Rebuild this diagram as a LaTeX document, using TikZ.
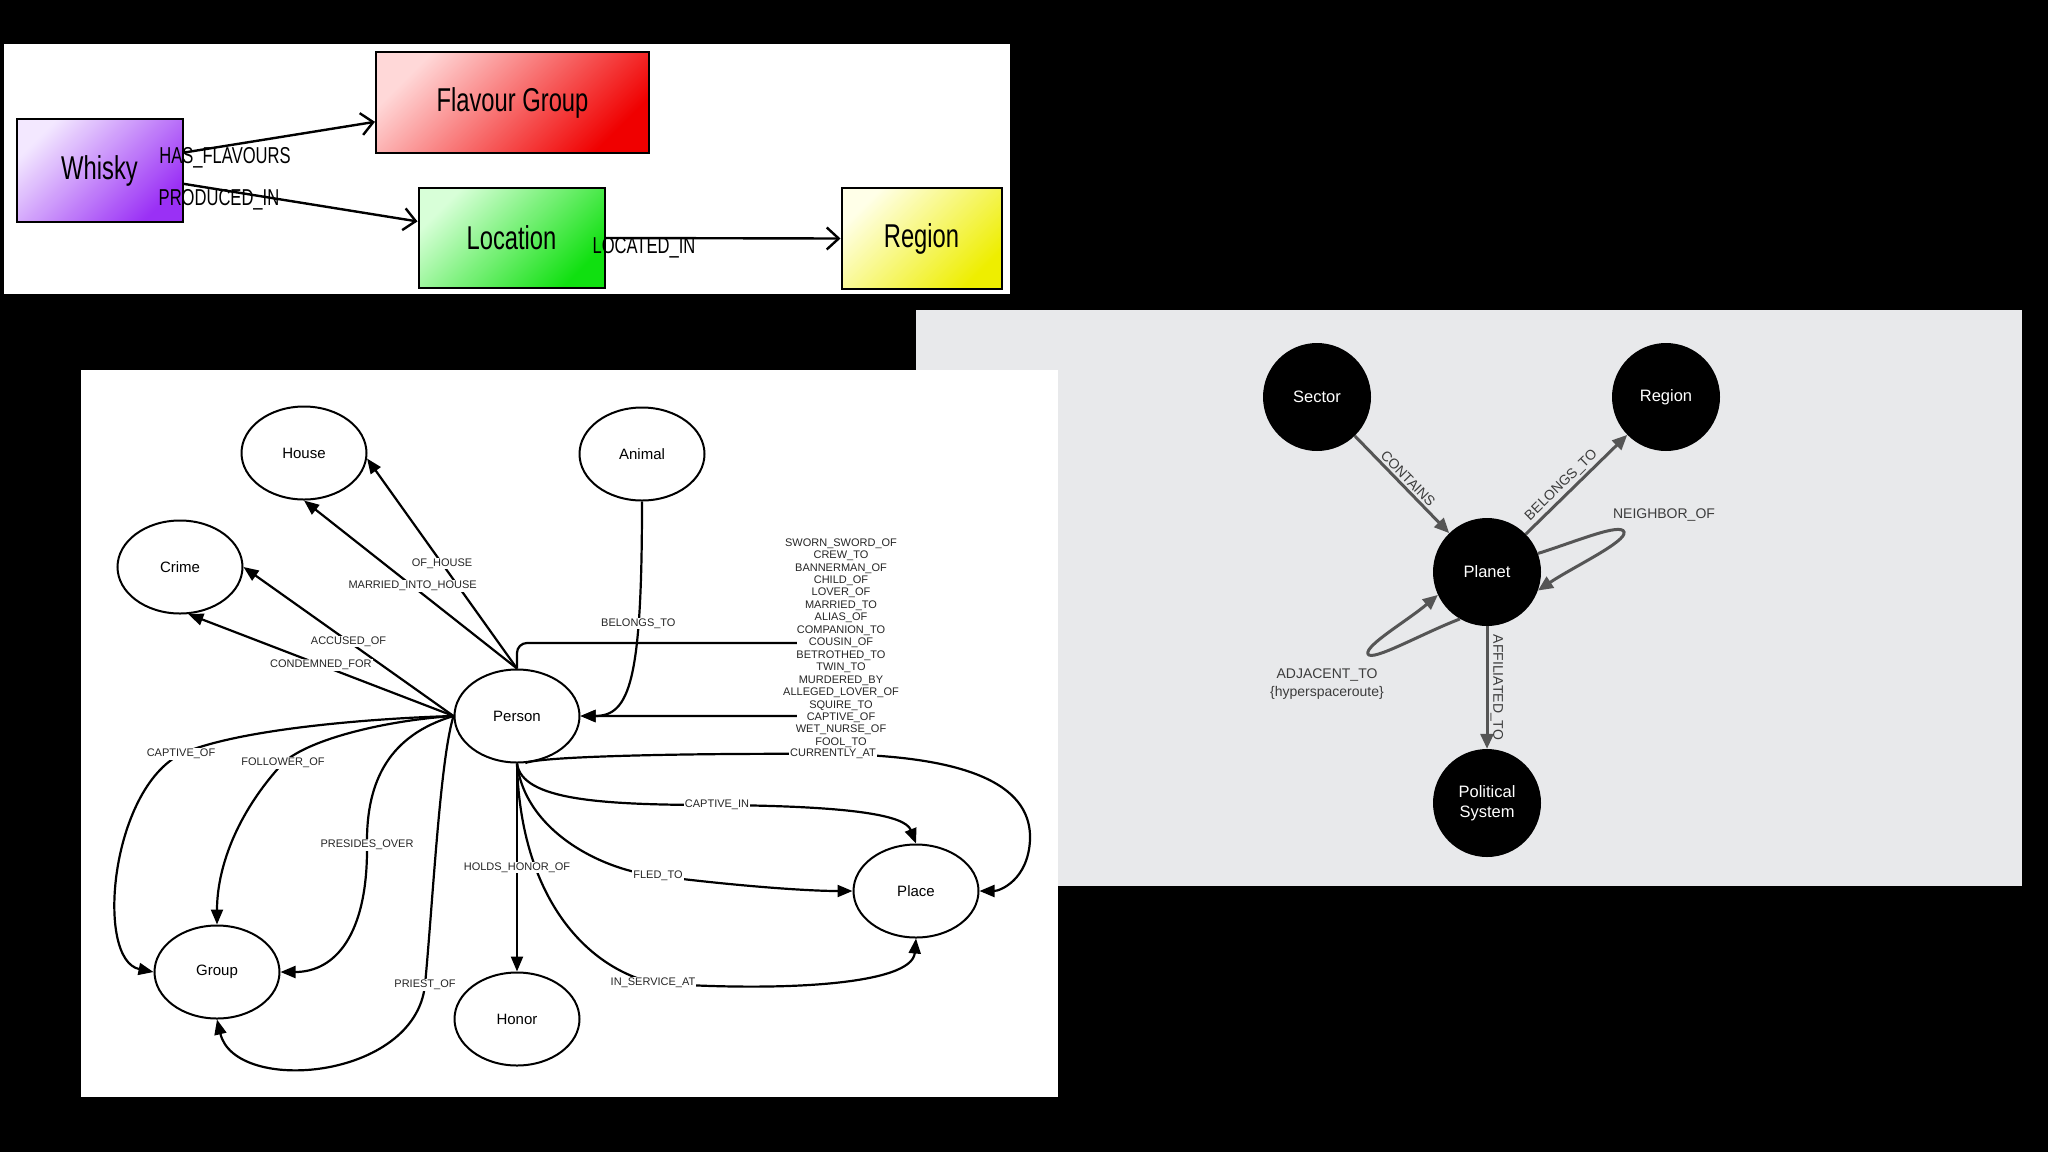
\documentclass[tikz,border=0pt]{standalone}
\usepackage{fontspec}
\setmainfont{Liberation Sans}
\newfontfamily\handfont{Liberation Sans}[FakeStretch=0.72]
\usetikzlibrary{arrows.meta,shapes.geometric,calc}
\definecolor{panelgray}{HTML}{E8E9EB}
\definecolor{sedgecol}{HTML}{555555}
\definecolor{slblcol}{HTML}{3C3C3C}
\definecolor{purpleA}{HTML}{F3E8FF}
\definecolor{purpleB}{HTML}{9A30F5}
\definecolor{redA}{HTML}{FFD8D8}
\definecolor{redB}{HTML}{F00000}
\definecolor{greenA}{HTML}{D8FFD8}
\definecolor{greenB}{HTML}{10E010}
\definecolor{yellowA}{HTML}{FFFFE8}
\definecolor{yellowB}{HTML}{EEEE00}
\tikzset{
 hbox/.style={draw=black, line width=2pt, inner sep=0pt, font=\handfont\fontsize{33}{36}\selectfont},
 hedge/.style={line width=2.4pt, -{Straight Barb[length=12pt,width=22pt]}},
 hlbl/.style={font=\handfont\fontsize{23}{25}\selectfont, inner sep=0pt},
 gnode/.style={ellipse, draw=black, line width=2pt, minimum width=125pt, minimum height=93pt, inner sep=0pt, font=\fontsize{15}{18}\selectfont},
 gedge/.style={line width=2.2pt, -{Triangle[length=15pt,width=12pt]}},
 glbl/.style={fill=white, inner sep=1pt, text=black!85, font=\fontsize{11}{12.45}\selectfont},
 snode/.style={circle, fill=black, minimum size=108pt, inner sep=0pt, text=white, align=center, font=\fontsize{16.5}{20.5}\selectfont},
 sedge/.style={draw=sedgecol, line width=3pt, -{Triangle[length=15pt,width=13pt]}},
 slbl/.style={text=slblcol, font=\fontsize{14}{18}\selectfont, inner sep=2pt, align=center},
}
\begin{document}
\begin{tikzpicture}[x=1pt,y=-1pt]
\fill[black] (0,0) rectangle (2048,1152);
\useasboundingbox (0,0) rectangle (2048,1152);

% ---------- top panel ----------
\fill[white] (4,44) rectangle (1010,294);
\node[hbox, minimum width=166pt, minimum height=103pt, top color=purpleA, bottom color=purpleB, shading angle=45] (whisky) at (99.5,170.5) {Whisky};
\node[hbox, minimum width=273pt, minimum height=101pt, top color=redA, bottom color=redB, shading angle=45] (flavour) at (512.5,102.5) {Flavour Group};
\node[hbox, minimum width=186pt, minimum height=100pt, top color=greenA, bottom color=greenB, shading angle=45] (location) at (511.5,238) {Location};
\node[hbox, minimum width=160pt, minimum height=101pt, top color=yellowA, bottom color=yellowB, shading angle=45] (region) at (921.5,238.5) {Region};
\draw[hedge] (whisky.12) -- (flavour.188.5);
\draw[hedge] (whisky.-9) -- (location.170);
\draw[hedge] (location.east) -- (region.west);
\node[hlbl] (hasfl) at (225,158) {HAS\_FLAVOURS};
\node[hlbl] (prodin) at (219,200) {PRODUCED\_IN};
\node[hlbl] (locin) at (644,248) {LOCATED\_IN};

% ---------- right panel ----------
\fill[panelgray] (916,310) rectangle (2022,886);
\node[snode] (sector) at (1317,397) {Sector};
\node[snode] (region2) at (1666,397) {Region};
\node[snode] (planet) at (1487,572) {Planet};
\node[snode] (polsys) at (1487,803) {Political\\System};
\draw[sedge] (sector) -- node[slbl, sloped, above] {CONTAINS} (planet);
\draw[sedge] (planet) -- node[slbl, sloped, above, pos=0.42] {BELONGS\_TO} (region2);
\draw[sedge] (planet) -- node[slbl, rotate=-90, anchor=south, midway] {AFFILIATED\_TO} (polsys);
\draw[sedge] (planet.20) .. controls (1576,541.5) and (1621,522.4) .. (1624,532) .. controls (1627,541.6) and (1573,567) .. (planet.-20);
\draw[sedge] (planet.240) .. controls (1422.6,633.2) and (1371.7,662.2) .. (1368,654) .. controls (1364.3,645.8) and (1407.4,620.7) .. (planet.205);
\node[slbl] (nbl) at (1664,515) {NEIGHBOR\_OF};
\node[slbl] (adl) at (1327,684) {ADJACENT\_TO\\\{hyperspaceroute\}};

% ---------- bottom-left panel ----------
\fill[white] (81,370) rectangle (1058,1097);
\node[gnode] (house) at (304,453) {House};
\node[gnode] (animal) at (642,454) {Animal};
\node[gnode] (crime) at (180,567) {Crime};
\node[gnode] (person) at (517,716) {Person};
\node[gnode] (group) at (217,972) {Group};
\node[gnode] (honor) at (517,1019) {Honor};
\node[gnode] (place) at (916,891) {Place};

\draw[gedge] (person.north) -- node[glbl, pos=0.5] {OF\_HOUSE} (house.-5);
\draw[gedge] (person.north) -- node[glbl, pos=0.49] {MARRIED\_INTO\_HOUSE} (house.south);
\draw[gedge] (person.west) -- node[glbl, pos=0.5] {ACCUSED\_OF} (crime.east);
\draw[gedge] (person.west) -- node[glbl, pos=0.5] {CONDEMNED\_FOR} (crime.-80);
\draw[gedge] (animal.south) .. controls (642,680) and (630,716) .. node[glbl, pos=0.29] {BELONGS\_TO} (person.east);

\draw[gedge, rounded corners=10pt] (person.north) |- (841,643) |- (person.east);
\node[glbl, inner xsep=-14pt, inner ysep=0pt, align=center] (rels) at (841,643) {SWORN\_SWORD\_OF\\CREW\_TO\\BANNERMAN\_OF\\CHILD\_OF\\LOVER\_OF\\MARRIED\_TO\\ALIAS\_OF\\COMPANION\_TO\\COUSIN\_OF\\BETROTHED\_TO\\TWIN\_TO\\MURDERED\_BY\\ALLEGED\_LOVER\_OF\\SQUIRE\_TO\\CAPTIVE\_OF\\WET\_NURSE\_OF\\FOOL\_TO};

\draw[gedge] (person.-80) .. controls (540,756) and (700,753) .. (833,754) node[glbl] (curat) {CURRENTLY\_AT} .. controls (980,756) and (1032,790) .. (1030,840) .. controls (1028,880) and (1000,891) .. (place.east);
\draw[gedge] (person.south) .. controls (522,800) and (600,805) .. (717,805) node[glbl] (captin) {CAPTIVE\_IN} .. controls (850,806) and (905,815) .. (place.north);
\draw[gedge] (person.south) .. controls (525,830) and (600,870) .. (658,876) node[glbl] (fledto) {FLED\_TO} .. controls (720,884) and (800,891) .. (place.west);
\draw[gedge] (person.south) .. controls (520,890) and (580,965) .. (653,983) node[glbl] (inserv) {IN\_SERVICE\_AT} .. controls (780,992) and (912,985) .. (place.south);
\draw[gedge] (person.south) -- node[glbl, midway] {HOLDS\_HONOR\_OF} (honor.north);

\draw[gedge] (person.west) .. controls (380,718) and (240,728) .. (181,754) node[glbl] (capof) {CAPTIVE\_OF} .. controls (110,790) and (95,960) .. (group.west);
\draw[gedge] (person.west) .. controls (390,720) and (310,738) .. (283,763) node[glbl] (follof) {FOLLOWER\_OF} .. controls (235,815) and (217,870) .. (group.north);
\draw[gedge] (person.west) .. controls (390,735) and (366,780) .. (367,845) node[glbl] (presov) {PRESIDES\_OVER} .. controls (368,935) and (335,972) .. (group.east);
\draw[gedge] (person.west) .. controls (440,760) and (433,900) .. (425,985) node[glbl] (priest) {PRIEST\_OF} .. controls (415,1080) and (235,1095) .. (group.south);
\end{tikzpicture}
\end{document}
